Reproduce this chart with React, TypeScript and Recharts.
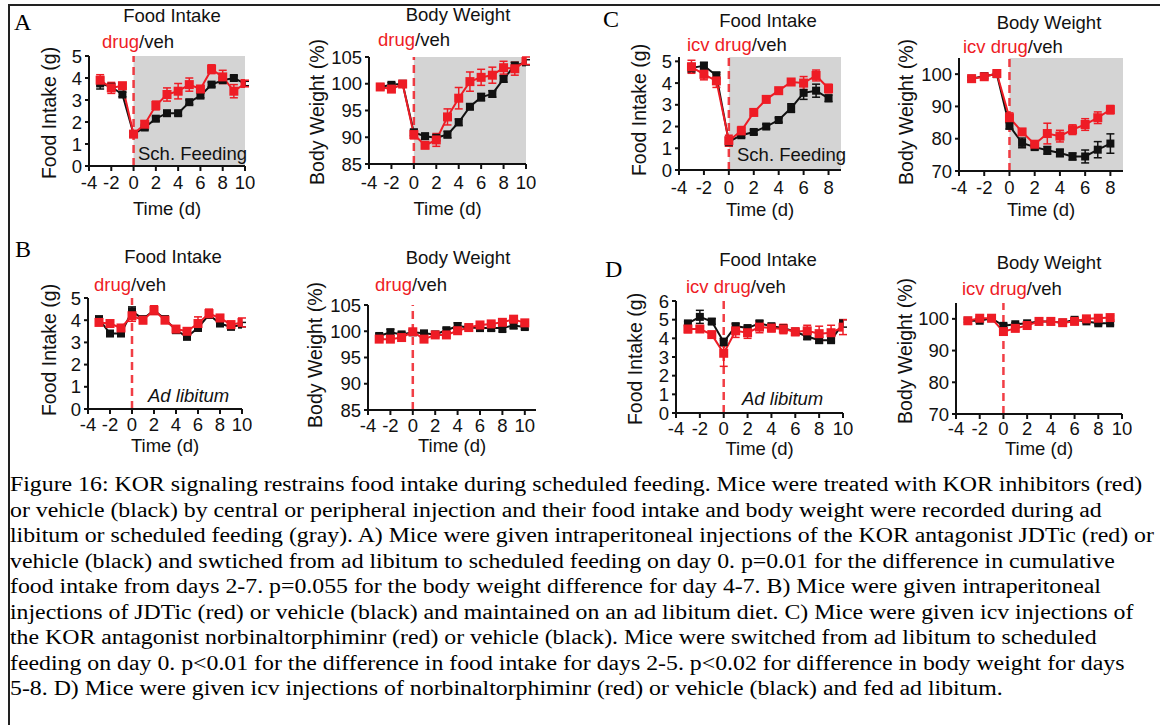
import React from "react";
import { LineChart, Line, XAxis, YAxis, ReferenceArea, ReferenceLine, ErrorBar } from "recharts";

const RED = "#ee1c25";
const BLACK = "#111111";
const GRAY = "#d4d4d4";
const SANS = '"Liberation Sans", Arial, sans-serif';
const SERIF = '"Liberation Serif", "Times New Roman", serif';

// days on the x axis
const daysLong = [-3, -2, -1, 0, 1, 2, 3, 4, 5, 6, 7, 8, 9, 10];
const daysC = [-3, -2, -1, 0, 1, 2, 3, 4, 5, 6, 7, 8];
const daysDbw = [-3, -2, -1, 0, 1, 2, 3, 4, 5, 6, 7, 8, 9];

const xTicks10 = [-4, -2, 0, 2, 4, 6, 8, 10];
const xTicks8 = [-4, -2, 0, 2, 4, 6, 8];
const fiTicks5 = [0, 1, 2, 3, 4, 5];
const fiTicks6 = [0, 1, 2, 3, 4, 5, 6];
const bwTicks85 = [85, 90, 95, 100, 105];
const bwTicks70 = [70, 80, 90, 100];

// A: ip drug, scheduled feeding
const aFiVeh = [3.75, 3.6, 3.25, 1.45, 1.75, 2.15, 2.4, 2.4, 2.9, 3.2, 3.7, 3.9, 4.0, 3.75];
const aFiVehErr = [0.25, 0.15, 0.1, 0.1, 0.1, 0.1, 0.1, 0.1, 0.1, 0.1, 0.1, 0.1, 0.1, 0.1];
const aFiDrug = [3.9, 3.55, 3.65, 1.45, 1.9, 2.75, 3.25, 3.4, 3.7, 3.5, 4.4, 4.05, 3.4, 3.75];
const aFiDrugErr = [0.25, 0.25, 0.1, 0.1, 0.15, 0.2, 0.3, 0.35, 0.3, 0.15, 0.2, 0.3, 0.3, 0.15];
const aBwVeh = [99.4, 99.8, 100, 90.9, 90.2, 89.9, 90.5, 92.8, 95.7, 97.5, 98.1, 100.9, 103.4, 104];
const aBwVehErr = [0.4, 0.4, 0.3, 0.6, 0.5, 0.5, 0.6, 0.6, 0.5, 0.7, 0.6, 0.6, 0.6, 0.5];
const aBwDrug = [99.4, 99.0, 99.95, 90.5, 88.5, 89.5, 93.8, 97.3, 100.4, 101.2, 101.6, 103, 102.8, 104.3];
const aBwDrugErr = [0.3, 0.5, 0.3, 0.8, 0.6, 1.2, 1.5, 2, 1.8, 1.5, 1.5, 1.2, 1.2, 0.7];

// B: ip drug, ad libitum
const bFiVeh = [4.05, 3.4, 3.4, 4.4, 4.05, 4.45, 4.05, 3.55, 3.25, 3.65, 4.25, 3.85, 3.7, 3.8];
const bFiVehErr = [0.1, 0.1, 0.1, 0.2, 0.1, 0.1, 0.1, 0.1, 0.1, 0.1, 0.15, 0.1, 0.1, 0.1];
const bFiDrug = [3.9, 3.85, 3.65, 4.2, 4.0, 4.45, 4.0, 3.6, 3.5, 3.85, 4.3, 4.1, 3.8, 3.9];
const bFiDrugErr = [0.1, 0.1, 0.1, 0.25, 0.15, 0.2, 0.1, 0.1, 0.1, 0.3, 0.2, 0.15, 0.15, 0.2];
const bBwVeh = [99.1, 99.8, 99.4, 99.8, 99.6, 99.4, 100.2, 101, 100.7, 100.6, 100.6, 100.6, 101.1, 100.8];
const bBwVehErr = [0.4, 0.6, 0.4, 0.4, 0.4, 0.4, 0.4, 0.6, 0.4, 0.6, 0.5, 0.8, 0.6, 0.4];
const bBwDrug = [98.5, 98.5, 98.8, 99.9, 98.5, 99.3, 99.3, 100.1, 100.7, 101.2, 101.4, 101.7, 102.3, 101.6];
const bBwDrugErr = [0.3, 0.3, 0.3, 0.3, 0.3, 0.3, 0.3, 0.3, 0.3, 0.3, 0.3, 0.3, 0.3, 0.3];

// C: icv drug, scheduled feeding
const cFiVeh = [4.7, 4.8, 4.35, 1.3, 1.6, 1.75, 2.0, 2.3, 2.85, 3.55, 3.65, 3.3];
const cFiVehErr = [0.2, 0.15, 0.15, 0.2, 0.1, 0.1, 0.1, 0.1, 0.2, 0.3, 0.3, 0.15];
const cFiDrug = [4.75, 4.4, 4.1, 1.35, 1.8, 2.65, 3.25, 3.65, 4.05, 4.0, 4.35, 3.75];
const cFiDrugErr = [0.3, 0.25, 0.3, 0.25, 0.2, 0.15, 0.15, 0.1, 0.1, 0.3, 0.25, 0.2];
const cBwVeh = [98.6, 99.4, 100, 84, 78.7, 77.4, 76.4, 75.6, 74.5, 74.5, 76.6, 78.5];
const cBwVehErr = [0.5, 0.6, 0.3, 1, 1.5, 0.8, 1.2, 1.2, 1.1, 2, 2.5, 3];
const cBwDrug = [98.6, 99.2, 100.2, 86.5, 82.1, 78.3, 81.6, 80.8, 82.8, 84.4, 86.5, 89];
const cBwDrugErr = [0.6, 0.6, 0.4, 1.5, 1, 0.8, 3.2, 1.8, 1.5, 1.8, 1.8, 1.3];

// D: icv drug, ad libitum
const dFiVeh = [4.8, 5.15, 4.9, 3.8, 4.65, 4.55, 4.8, 4.65, 4.55, 4.35, 4.1, 3.9, 3.9, 4.8];
const dFiVehErr = [0.1, 0.35, 0.15, 0.2, 0.15, 0.1, 0.15, 0.1, 0.1, 0.1, 0.15, 0.15, 0.1, 0.2];
const dFiDrug = [4.5, 4.5, 4.2, 3.2, 4.4, 4.3, 4.6, 4.55, 4.5, 4.35, 4.4, 4.25, 4.3, 4.6];
const dFiDrugErr = [0.2, 0.15, 0.1, 0.7, 0.35, 0.3, 0.3, 0.2, 0.25, 0.2, 0.3, 0.4, 0.4, 0.4];
const dBwVeh = [99.4, 99.4, 100.2, 97.8, 98.3, 98.6, 99.2, 99.2, 98.8, 99.7, 99.2, 98.6, 98.6];
const dBwVehErr = [0.5, 0.5, 0.4, 0.6, 0.5, 0.5, 0.4, 0.4, 0.4, 0.4, 0.5, 0.5, 0.5];
const dBwDrug = [99.4, 100.2, 100.2, 96, 97, 97.9, 99.2, 99.2, 98.8, 99.2, 100, 100.2, 100.4];
const dBwDrugErr = [0.5, 0.5, 0.4, 1, 0.8, 0.6, 0.5, 0.5, 0.5, 0.5, 0.5, 0.6, 0.6];

const captionLines = [
  "Figure 16: KOR signaling restrains food intake during scheduled feeding. Mice were treated with KOR inhibitors (red)",
  "or vehicle (black) by central or peripheral injection and their food intake and body weight were recorded during ad",
  "libitum or scheduled feeding (gray). A) Mice were given intraperitoneal injections of the KOR antagonist JDTic (red) or",
  "vehicle (black) and swtiched from ad libitum to scheduled feeding on day 0. p=0.01 for the difference in cumulative",
  "food intake from days 2-7. p=0.055 for the body weight difference for day 4-7. B) Mice were given intraperitoneal",
  "injections of JDTic (red) or vehicle (black) and maintained on an ad libitum diet. C) Mice were given icv injections of",
  "the KOR antagonist norbinaltorphiminr (red) or vehicle (black). Mice were switched from ad libitum to scheduled",
  "feeding on day 0. p<0.01 for the difference in food intake for days 2-5. p<0.02 for difference in body weight for days",
  "5-8. D) Mice were given icv injections of norbinaltorphiminr (red) or vehicle (black) and fed ad libitum.",
];

const rows = (days: number[], veh: number[], vehErr: number[], drug: number[], drugErr: number[]) =>
  days.map((d, i) => ({ day: d, veh: veh[i], vehErr: vehErr[i], drug: drug[i], drugErr: drugErr[i] }));

const YW = 70;
const MT = 50;
const MR = 10;
const XH = 60;

type PanelProps = {
  data: any[];
  plotL: number;
  plotT: number;
  plotW: number;
  plotH: number;
  xDomain: [number, number];
  xTicks: number[];
  yDomain: [number, number];
  yTicks: number[];
  yLabel: string;
  shade: boolean;
  tickGap: number;
  timeDy: number;
  yLabelDx: number;
  yLabelCy: number;
};

const square = (color: string, size: number) => (p: any) => (
  <rect key={`sq-${p.index}`} x={p.cx - size / 2} y={p.cy - size / 2} width={size} height={size} fill={color} />
);

function Panel(props: PanelProps) {
  const { data, plotL, plotT, plotW, plotH, xDomain, xTicks, yDomain, yTicks, yLabel, shade } = props;
  const width = YW + plotW + MR;
  const height = MT + plotH + XH;
  return (
    <div style={{ position: "absolute", left: plotL - YW, top: plotT - MT }}>
      <LineChart width={width} height={height} data={data} margin={{ top: MT, right: MR, bottom: 0, left: 0 }}>
        {shade && (
          <ReferenceArea x1={0} x2={xDomain[1]} y1={yDomain[0]} y2={yDomain[1]} fill={GRAY} fillOpacity={1} stroke="none" />
        )}
        <XAxis
          type="number"
          dataKey="day"
          domain={xDomain}
          ticks={xTicks}
          interval={0}
          allowDataOverflow
          height={XH}
          stroke={BLACK}
          strokeWidth={2}
          tickSize={5}
          tickMargin={props.tickGap}
          tick={{ fill: BLACK, fontSize: 18.5, fontFamily: SANS }}
          label={(p: any) => {
            const vb = p.viewBox;
            return (
              <text
                x={vb.x + vb.width / 2}
                y={vb.y + props.timeDy}
                textAnchor="middle"
                dominantBaseline="central"
                fontSize={18.5}
                fontFamily={SANS}
                fill={BLACK}
              >
                Time (d)
              </text>
            );
          }}
        />
        <YAxis
          type="number"
          domain={yDomain}
          ticks={yTicks}
          interval={0}
          allowDataOverflow
          width={YW}
          stroke={BLACK}
          strokeWidth={2}
          tickSize={4}
          tickMargin={3}
          tick={{ fill: BLACK, fontSize: 18.5, fontFamily: SANS }}
          label={(p: any) => {
            const vb = p.viewBox;
            const cx = vb.x + vb.width + props.yLabelDx;
            const cy = props.yLabelCy - plotT + MT;
            return (
              <text
                x={cx}
                y={cy}
                transform={`rotate(-90 ${cx} ${cy})`}
                textAnchor="middle"
                dominantBaseline="central"
                fontSize={19.5}
                fontFamily={SANS}
                fill={BLACK}
              >
                {yLabel}
              </text>
            );
          }}
        />
        <ReferenceLine x={0} stroke={RED} strokeOpacity={0.85} strokeWidth={2.5} strokeDasharray="8 5" />
        <Line
          type="linear"
          dataKey="veh"
          stroke={BLACK}
          strokeWidth={2}
          dot={square(BLACK, 8)}
          isAnimationActive={false}
        >
          <ErrorBar dataKey="vehErr" direction="y" width={4} stroke={BLACK} strokeWidth={1.5} />
        </Line>
        <Line
          type="linear"
          dataKey="drug"
          stroke={RED}
          strokeWidth={2}
          dot={square(RED, 9)}
          isAnimationActive={false}
        >
          <ErrorBar dataKey="drugErr" direction="y" width={4} stroke={RED} strokeWidth={1.5} />
        </Line>
      </LineChart>
    </div>
  );
}

const textBase: React.CSSProperties = {
  position: "absolute",
  fontFamily: SANS,
  fontSize: 18.5,
  color: BLACK,
  lineHeight: "22px",
  height: 22,
  whiteSpace: "nowrap",
};

const Title = ({ cx, cy, text }: { cx: number; cy: number; text: string }) => (
  <div style={{ ...textBase, left: cx - 100, width: 200, top: cy - 11, textAlign: "center" }}>{text}</div>
);

const DrugLabel = ({ x, cy, icv }: { x: number; cy: number; icv: boolean }) => (
  <div style={{ ...textBase, left: x, top: cy - 11 }}>
    <span style={{ color: RED }}>{icv ? "icv drug" : "drug"}</span>/veh
  </div>
);

const Letter = ({ x, cy, text }: { x: number; cy: number; text: string }) => (
  <div style={{ position: "absolute", left: x, top: cy - 14, fontFamily: SERIF, fontSize: 24, lineHeight: "28px" }}>
    {text}
  </div>
);

const Note = ({ x, cy, text, italic }: { x: number; cy: number; text: string; italic?: boolean }) => (
  <div style={{ ...textBase, left: x, top: cy - 11, fontStyle: italic ? "italic" : "normal" }}>{text}</div>
);

export default function App() {
  return (
    <div style={{ position: "absolute", left: 0, top: 0, width: 1160, height: 725, background: "#fff", overflow: "hidden" }}>
      <div style={{ position: "absolute", left: 8, top: 4, width: 1152, height: 2, background: "#222" }} />
      <div style={{ position: "absolute", left: 8, top: 4, width: 2, height: 721, background: "#222" }} />

      <Letter x={14} cy={22} text="A" />
      <Letter x={603} cy={19} text="C" />
      <Letter x={15} cy={249} text="B" />
      <Letter x={605} cy={269} text="D" />

      <Title cx={172} cy={16} text="Food Intake" />
      <Title cx={458} cy={15} text="Body Weight" />
      <Title cx={768} cy={21} text="Food Intake" />
      <Title cx={1049} cy={23} text="Body Weight" />
      <Title cx={173} cy={257} text="Food Intake" />
      <Title cx={458} cy={258} text="Body Weight" />
      <Title cx={768} cy={260} text="Food Intake" />
      <Title cx={1049} cy={263} text="Body Weight" />

      <DrugLabel x={102} cy={42} icv={false} />
      <DrugLabel x={378} cy={40} icv={false} />
      <DrugLabel x={687} cy={45} icv={true} />
      <DrugLabel x={963} cy={47} icv={true} />
      <DrugLabel x={94} cy={285} icv={false} />
      <DrugLabel x={375} cy={285} icv={false} />
      <DrugLabel x={686} cy={287} icv={true} />
      <DrugLabel x={962} cy={289} icv={true} />

      <Panel
        data={rows(daysLong, aFiVeh, aFiVehErr, aFiDrug, aFiDrugErr)}
        plotL={89} plotT={56} plotW={156} plotH={110}
        xDomain={[-4, 10]} xTicks={xTicks10} yDomain={[0, 5]} yTicks={fiTicks5}
        yLabel="Food Intake (g)" shade tickGap={5} timeDy={42} yLabelDx={-40} yLabelCy={113}
      />
      <Panel
        data={rows(daysLong, aBwVeh, aBwVehErr, aBwDrug, aBwDrugErr)}
        plotL={369} plotT={57} plotW={157} plotH={107}
        xDomain={[-4, 10]} xTicks={xTicks10} yDomain={[85, 105]} yTicks={bwTicks85}
        yLabel="Body Weight (%)" shade tickGap={7} timeDy={44} yLabelDx={-52} yLabelCy={112}
      />
      <Panel
        data={rows(daysC, cFiVeh, cFiVehErr, cFiDrug, cFiDrugErr)}
        plotL={679} plotT={57} plotW={162} plotH={113}
        xDomain={[-4, 9]} xTicks={xTicks8} yDomain={[0, 5.2]} yTicks={fiTicks5}
        yLabel="Food Intake (g)" shade tickGap={6} timeDy={39} yLabelDx={-40} yLabelCy={110}
      />
      <Panel
        data={rows(daysC, cBwVeh, cBwVehErr, cBwDrug, cBwDrugErr)}
        plotL={959} plotT={58} plotW={164} plotH={113}
        xDomain={[-4, 9]} xTicks={xTicks8} yDomain={[70, 105]} yTicks={bwTicks70}
        yLabel="Body Weight (%)" shade tickGap={5} timeDy={38} yLabelDx={-53} yLabelCy={112}
      />
      <Panel
        data={rows(daysLong, bFiVeh, bFiVehErr, bFiDrug, bFiDrugErr)}
        plotL={88} plotT={298} plotW={154} plotH={111}
        xDomain={[-4, 10]} xTicks={xTicks10} yDomain={[0, 5]} yTicks={fiTicks5}
        yLabel="Food Intake (g)" shade={false} tickGap={4} timeDy={36} yLabelDx={-39} yLabelCy={350}
      />
      <Panel
        data={rows(daysLong, bBwVeh, bBwVehErr, bBwDrug, bBwDrugErr)}
        plotL={368} plotT={305} plotW={168} plotH={105}
        xDomain={[-4, 11]} xTicks={xTicks10} yDomain={[85, 105]} yTicks={bwTicks85}
        yLabel="Body Weight (%)" shade={false} tickGap={4} timeDy={35} yLabelDx={-53} yLabelCy={355}
      />
      <Panel
        data={rows(daysLong, dFiVeh, dFiVehErr, dFiDrug, dFiDrugErr)}
        plotL={676} plotT={301} plotW={167} plotH={112}
        xDomain={[-4, 10]} xTicks={xTicks10} yDomain={[0, 6]} yTicks={fiTicks6}
        yLabel="Food Intake (g)" shade={false} tickGap={4} timeDy={35} yLabelDx={-41} yLabelCy={359}
      />
      <Panel
        data={rows(daysDbw, dBwVeh, dBwVehErr, dBwDrug, dBwDrugErr)}
        plotL={956} plotT={303} plotW={166} plotH={111}
        xDomain={[-4, 10]} xTicks={xTicks10} yDomain={[70, 105]} yTicks={bwTicks70}
        yLabel="Body Weight (%)" shade={false} tickGap={3} timeDy={34} yLabelDx={-51} yLabelCy={351}
      />

      <Note x={138} cy={154} text="Sch. Feeding" />
      <Note x={737} cy={155} text="Sch. Feeding" />
      <Note x={148} cy={396} text="Ad libitum" italic />
      <Note x={742} cy={399} text="Ad libitum" italic />

      {captionLines.map((line, i) => (
        <div
          key={i}
          style={{
            position: "absolute",
            left: 10,
            top: 472 + i * 25.5,
            fontFamily: SERIF,
            fontSize: 20,
            lineHeight: "24px",
            whiteSpace: "nowrap",
            color: "#000",
            transform: "scaleX(1.19)",
            transformOrigin: "0 0",
          }}
        >
          {line}
        </div>
      ))}
    </div>
  );
}
